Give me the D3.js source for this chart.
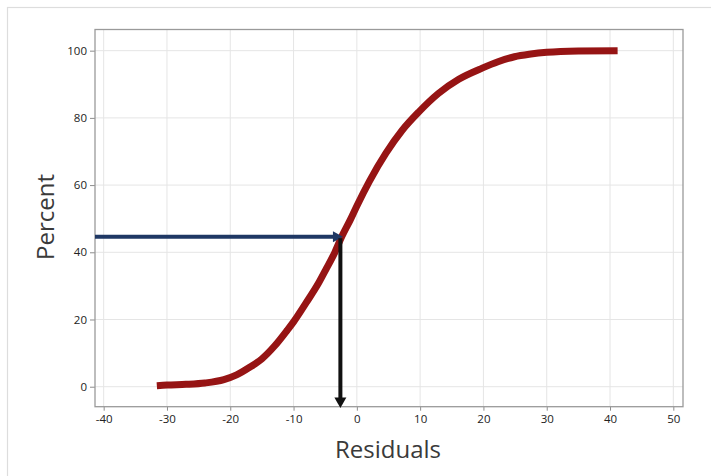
<!DOCTYPE html>
<html>
<head>
<meta charset="utf-8">
<script src="https://cdn.jsdelivr.net/npm/d3@7"></script>
<style>
  html, body { margin: 0; padding: 0; background: #fff; }
  svg { display: block; font-family: "Open Sans", "Noto Sans", sans-serif; }
</style>
</head>
<body>
<svg id="chart" width="711" height="476"></svg>
<script>
// Empirical cumulative distribution of the residuals (percent)
const residuals = [-31.6, -30, -27, -24, -21, -19, -17, -15, -13, -11, -10, -8, -6, -4.8, -3.5, -2.4, -1, 0, 2, 4.6, 7.2, 9.8, 12.9, 16.1, 19.8, 22.3, 24.9, 27.5, 30, 35, 41.2];
const percents  = [0.3, 0.5, 0.7, 1.1, 2.1, 3.5, 5.7, 8.3, 12.1, 16.8, 19.3, 25.0, 31.0, 35.2, 39.9, 44.6, 49.8, 53.8, 61.2, 69.5, 76.4, 81.8, 87.3, 91.5, 94.8, 96.7, 98.2, 99.0, 99.5, 99.9, 100];

// Axis ticks
const xTicks = [-40, -30, -20, -10, 0, 10, 20, 30, 40, 50];
const yTicks = [0, 20, 40, 60, 80, 100];

// Reading of the curve: 44.6 percent maps to a residual of about -2.6
const readPercent = [44.6];
const readResidual = [-2.6];
const blueTipResidual = [-2.2];
const blackTipPercent = [-6.3];

const svg = d3.select("#chart");
const plot = { left: 95, right: 683, top: 29.5, bottom: 406.7 };

const x = d3.scaleLinear().domain([-41.37, 51.53]).range([plot.left, plot.right]);
const y = d3.scaleLinear().domain([-5.95, 106.3]).range([plot.bottom, plot.top]);

// Outer panel frame
svg.append("rect")
  .attr("x", 7.5).attr("y", 7.5)
  .attr("width", 730).attr("height", 490)
  .attr("fill", "none").attr("stroke", "#dddddd").attr("stroke-width", 1.2);

// Gridlines
const grid = svg.append("g");
grid.selectAll(".vx").data(xTicks).join("line")
  .attr("x1", d => x(d)).attr("x2", d => x(d))
  .attr("y1", plot.top).attr("y2", plot.bottom)
  .attr("stroke", "#e5e5e5").attr("stroke-width", 1);
grid.selectAll(".hy").data(yTicks).join("line")
  .attr("y1", d => y(d)).attr("y2", d => y(d))
  .attr("x1", plot.left).attr("x2", plot.right)
  .attr("stroke", "#e5e5e5").attr("stroke-width", 1);

// Axes (plain hyphen for negative labels)
const fmt = d => String(d);
const xAxis = svg.append("g")
  .attr("transform", `translate(0,${plot.bottom})`)
  .call(d3.axisBottom(x).tickValues(xTicks).tickFormat(fmt).tickSize(4).tickPadding(4).tickSizeOuter(0));
const yAxis = svg.append("g")
  .attr("transform", `translate(${plot.left},0)`)
  .call(d3.axisLeft(y).tickValues(yTicks).tickFormat(fmt).tickSize(5).tickPadding(3).tickSizeOuter(0));

[xAxis, yAxis].forEach(a => {
  a.select(".domain").remove();
  a.selectAll(".tick line").attr("stroke", "#8c8c8c");
  a.selectAll(".tick text")
    .attr("fill", "#222").attr("font-size", 11.5).attr("font-weight", 500)
    .attr("font-family", "'Open Sans', 'Noto Sans', sans-serif");
});

// Plot frame
svg.append("rect")
  .attr("x", plot.left).attr("y", plot.top)
  .attr("width", plot.right - plot.left).attr("height", plot.bottom - plot.top)
  .attr("fill", "none").attr("stroke", "#9a9a9a").attr("stroke-width", 1.3);

// Cumulative curve
const pts = residuals.map((r, i) => [r, percents[i]]);
svg.append("path")
  .datum(pts)
  .attr("d", d3.line().x(d => x(d[0])).y(d => y(d[1])).curve(d3.curveMonotoneX))
  .attr("fill", "none")
  .attr("stroke", "#961414")
  .attr("stroke-width", 7)
  .attr("stroke-linejoin", "round");

// Horizontal arrow from the percent axis to the curve
const hy = y(readPercent[0]);
const hTip = x(blueTipResidual[0]);
svg.append("line")
  .attr("x1", plot.left).attr("x2", hTip - 9)
  .attr("y1", hy).attr("y2", hy)
  .attr("stroke", "#1f3864").attr("stroke-width", 4);
svg.append("path")
  .attr("d", `M${hTip},${hy} L${hTip - 10},${hy - 5.5} L${hTip - 10},${hy + 5.5} Z`)
  .attr("fill", "#1f3864");

// Vertical arrow from the curve down to the residual axis
const vx = x(readResidual[0]);
const vTip = y(blackTipPercent[0]);
svg.append("line")
  .attr("x1", vx).attr("x2", vx)
  .attr("y1", hy + 1.5).attr("y2", vTip - 9)
  .attr("stroke", "#111").attr("stroke-width", 4);
svg.append("path")
  .attr("d", `M${vx},${vTip} L${vx - 6},${vTip - 10.5} L${vx + 6},${vTip - 10.5} Z`)
  .attr("fill", "#111");

// Axis titles
svg.append("text")
  .attr("x", 388).attr("y", 458)
  .attr("text-anchor", "middle")
  .attr("font-size", 24).attr("fill", "#3a3a3a")
  .text("Residuals");
svg.append("text")
  .attr("transform", "translate(54,217) rotate(-90)")
  .attr("text-anchor", "middle")
  .attr("font-size", 24).attr("fill", "#3a3a3a")
  .text("Percent");
</script>
</body>
</html>
